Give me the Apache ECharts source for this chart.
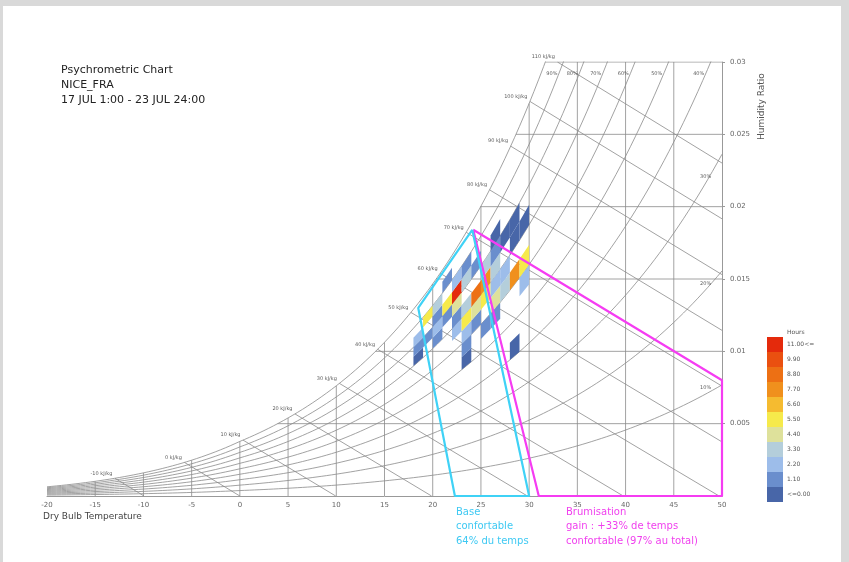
<!DOCTYPE html>
<html>
<head>
<meta charset="utf-8">
<script src="https://cdn.jsdelivr.net/npm/echarts@6/dist/echarts.min.js"></script>
<style>
html, body { margin: 0; padding: 0; background: #d9d9d9; }
#paper { position: absolute; left: 3px; top: 6px; width: 838px; height: 556px; background: #fff; }
#chart { position: absolute; left: 0; top: 0; width: 849px; height: 562px; }
</style>
</head>
<body>
<div id="paper"></div>
<div id="chart"></div>
<script>
// axes
const tempTicks = [-20, -15, -10, -5, 0, 5, 10, 15, 20, 25, 30, 35, 40, 45, 50];
const humTicks = [0.005, 0.01, 0.015, 0.02, 0.025, 0.03];
// relative humidity curves (fraction) and enthalpy lines (kJ/kg)
const rhLevels = [1.0, 0.9, 0.8, 0.7, 0.6, 0.5, 0.4, 0.3, 0.2, 0.1];
const enthalpyLevels = [-10, 0, 10, 20, 30, 40, 50, 60, 70, 80, 90, 100, 110];
const rhTopLabels = [90, 80, 70, 60, 50, 40];
const rhSideLabels = [30, 20, 10];

// legend
const hourLabels = ['<=0.00', '1.10', '2.20', '3.30', '4.40', '5.50', '6.60', '7.70', '8.80', '9.90', '11.00<='];
const hourColors = ['#4866a8', '#6a8ecd', '#9dbdea', '#b4cedb', '#dee19b', '#f6ea4b', '#f5bb30', '#f0901d', '#ed7014', '#ea5010', '#e42a0c'];

// comfort polygons [dry bulb, humidity ratio]
const comfortBase = [[24.1, 0.0184], [18.5, 0.0130], [22.3, 0], [30.0, 0], [24.1, 0.0184]];
const comfortMist = [[24.2, 0.0184], [50, 0.0080], [50, 0], [31.0, 0], [24.2, 0.0184]];

// hours per cell: [dry bulb bin start (1°C), RH bin start (5%), hours]
const hourCells = [
  [18, 70, 1], [18, 75, 2], [18, 80, 3],
  [19, 75, 2], [19, 85, 6],
  [20, 70, 2], [20, 75, 3], [20, 80, 2], [20, 85, 4],
  [21, 75, 2], [21, 80, 6], [21, 90, 2],
  [22, 65, 3], [22, 70, 2], [22, 75, 5], [22, 80, 11], [22, 85, 3],
  [23, 50, 1], [23, 55, 2], [23, 60, 3], [23, 65, 6], [23, 70, 4], [23, 80, 4], [23, 85, 2],
  [24, 60, 2], [24, 65, 5], [24, 70, 9], [24, 80, 2],
  [25, 55, 2], [25, 65, 6], [25, 70, 8], [25, 75, 4],
  [26, 55, 2], [26, 60, 5], [26, 65, 3], [26, 70, 4], [26, 75, 2], [26, 80, 1],
  [27, 60, 4], [27, 65, 3], [27, 75, 1],
  [28, 40, 1], [28, 60, 8], [28, 70, 1], [28, 75, 1],
  [29, 55, 3], [29, 60, 6], [29, 70, 1]
];

// psychrometrics, sea level
const P = 101.325;
function satPress(t) {
  if (t < 0) return 0.61115 * Math.exp(22.452 * t / (272.55 + t));
  return 0.61094 * Math.exp(17.625 * t / (243.04 + t));
}
function humRatio(t, rh) {
  const pw = rh * satPress(t);
  return 0.621945 * pw / (P - pw);
}
function enthalpy(t, w) {
  return 1.006 * t + w * (2501 + 1.86 * t);
}
function solve(f, target, lo, hi) {
  for (let i = 0; i < 60; i++) {
    const mid = (lo + hi) / 2;
    if (f(mid) < target) lo = mid; else hi = mid;
  }
  return (lo + hi) / 2;
}
const W_MAX = 0.03, T_MIN = -20, T_MAX = 50;

const gridLine = { color: '#8a8a8a', width: 0.8 };
const series = [];
function addLine(points, style, z) {
  series.push({
    type: 'line', data: points, showSymbol: false, silent: true,
    lineStyle: style, z: z || 2, animation: false, clip: true
  });
}

// RH curves
rhLevels.forEach(rh => {
  const pts = [];
  for (let t = T_MIN; t <= T_MAX + 0.01; t += 0.5) {
    const w = humRatio(t, rh);
    pts.push([t, w]);
    if (w > W_MAX) break;
  }
  addLine(pts, gridLine);
});

// dry bulb lines
tempTicks.slice(1, -1).forEach(t => {
  addLine([[t, 0], [t, Math.min(humRatio(t, 1), W_MAX)]], gridLine);
});

// humidity ratio lines
humTicks.forEach(w => {
  const ts = solve(t => humRatio(t, 1), w, -40, 60);
  addLine([[ts, w], [T_MAX, w]], gridLine);
});

// enthalpy lines
const enthalpyStarts = [];
enthalpyLevels.forEach(h => {
  let ts = solve(t => enthalpy(t, humRatio(t, 1)), h, -40, 60);
  let ws = humRatio(ts, 1);
  if (ws > W_MAX) {
    ws = W_MAX;
    ts = (h - W_MAX * 2501) / (1.006 + W_MAX * 1.86);
  }
  const t0 = h / 1.006;
  const end = t0 <= T_MAX ? [t0, 0] : [T_MAX, (h - 1.006 * T_MAX) / (2501 + 1.86 * T_MAX)];
  addLine([[ts, ws], end], gridLine);
  enthalpyStarts.push([ts, ws, h]);
});

const tinyLabel = { fontSize: 5, color: '#333', fontFamily: 'DejaVu Sans' };
series.push({
  type: 'scatter', data: enthalpyStarts, symbolSize: 1, silent: true, animation: false,
  itemStyle: { color: 'rgba(0,0,0,0)' },
  label: { show: true, position: 'left', distance: 2, offset: [0, -5], formatter: p => p.value[2] + ' kJ/kg', ...tinyLabel }
});

const topW = 0.0292;
series.push({
  type: 'scatter', silent: true, animation: false, symbolSize: 1,
  itemStyle: { color: 'rgba(0,0,0,0)' },
  data: rhTopLabels.map(r => [solve(t => humRatio(t, r / 100), topW, -40, 80), topW, r]),
  label: { show: true, position: 'left', distance: 1, formatter: p => p.value[2] + '%', ...tinyLabel }
});
series.push({
  type: 'scatter', silent: true, animation: false, symbolSize: 1,
  itemStyle: { color: 'rgba(0,0,0,0)' },
  data: rhSideLabels.map(r => [48.3, humRatio(48.3, r / 100), r]),
  label: { show: true, position: 'top', distance: 3, formatter: p => p.value[2] + '%', ...tinyLabel }
});

// hour cells
series.push({
  type: 'custom', data: hourCells, z: 5, silent: true, animation: false, clip: true,
  encode: { x: 0 },
  renderItem: function (params, api) {
    const t = api.value(0), rh = api.value(1);
    const corners = [[t, rh], [t + 1, rh], [t + 1, rh + 5], [t, rh + 5]];
    const pts = corners.map(c => api.coord([c[0], humRatio(c[0], c[1] / 100)]));
    return { type: 'polygon', shape: { points: pts }, style: { fill: api.visual('color') } };
  }
});
const cellSeriesIndex = series.length - 1;

// comfort zones
addLine(comfortMist, { color: '#f53cf2', width: 2.2 }, 8);
addLine(comfortBase, { color: '#3fd2f6', width: 2.2 }, 9);

const pieces = hourLabels.map((lab, i) => {
  const p = { label: lab, color: hourColors[i] };
  if (i > 0) p.gte = 1.1 * i;
  if (i < hourLabels.length - 1) p.lt = 1.1 * (i + 1);
  return p;
});

const chart = echarts.init(document.getElementById('chart'));
chart.setOption({
  animation: false,
  textStyle: { fontFamily: 'DejaVu Sans' },
  title: {
    text: 'Psychrometric Chart\nNICE_FRA\n17 JUL 1:00 - 23 JUL 24:00',
    left: 56, top: 58,
    textStyle: { fontSize: 11, fontWeight: 'normal', color: '#222', lineHeight: 15, fontFamily: 'DejaVu Sans' }
  },
  grid: { left: 47, right: 127, top: 62, bottom: 66 },
  xAxis: {
    type: 'value', min: T_MIN, max: T_MAX, interval: 5,
    splitLine: { show: false },
    axisLine: { lineStyle: { color: '#999' } },
    axisTick: { show: false },
    axisLabel: { fontSize: 7, color: '#666', margin: 6 }
  },
  yAxis: {
    type: 'value', position: 'right', min: 0, max: W_MAX, interval: 0.005,
    splitLine: { show: false },
    axisLine: { show: true, onZero: false, lineStyle: { color: '#999' } },
    axisTick: { show: true, length: 3, lineStyle: { color: '#999' } },
    axisLabel: { fontSize: 7, color: '#666', margin: 8, showMinLabel: false, formatter: v => String(parseFloat(v.toFixed(4))) }
  },
  visualMap: {
    type: 'piecewise', seriesIndex: cellSeriesIndex, dimension: 2,
    pieces: pieces, left: 752, top: 322, orient: 'vertical', align: 'left',
    itemWidth: 16, itemHeight: 15, itemGap: 0, itemSymbol: 'rect', textGap: 4,
    selectedMode: false, hoverLink: false,
    textStyle: { fontSize: 6, color: '#555' }
  },
  graphic: [
    { type: 'text', left: 787, top: 329, style: { text: 'Hours', fontSize: 6, fill: '#555', fontFamily: 'DejaVu Sans' } },
    { type: 'text', x: 762, y: 140, rotation: Math.PI / 2, style: { text: 'Humidity Ratio', fontSize: 9, fill: '#555', fontFamily: 'DejaVu Sans', align: 'left', verticalAlign: 'middle' } },
    { type: 'text', left: 43, top: 512, style: { text: 'Dry Bulb Temperature', fontSize: 9, fill: '#444', fontFamily: 'DejaVu Sans' } },
    { type: 'text', left: 456, top: 505, style: { text: 'Base\nconfortable\n64% du temps', fontSize: 10, lineHeight: 14.5, fill: '#3ec9f3', fontFamily: 'DejaVu Sans' } },
    { type: 'text', left: 566, top: 505, style: { text: 'Brumisation\ngain : +33% de temps\nconfortable (97% au total)', fontSize: 10, lineHeight: 14.5, fill: '#f040ee', fontFamily: 'DejaVu Sans' } }
  ],
  series: series
});
</script>
</body>
</html>
